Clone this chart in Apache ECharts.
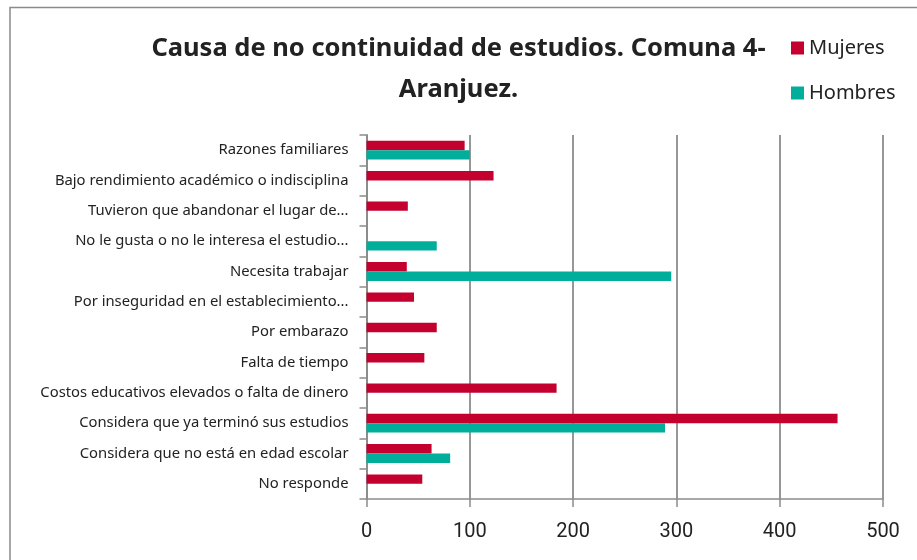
<!DOCTYPE html>
<html><head><meta charset="utf-8">
<script src="https://cdn.jsdelivr.net/npm/echarts@6/dist/echarts.min.js"></script>
<style>html,body{margin:0;padding:0;background:#fff}#c{width:917px;height:560px}</style>
</head><body><div id="c"></div>
<script>
const categories = ["Razones familiares","Bajo rendimiento académico o indisciplina","Tuvieron que abandonar el lugar de...","No le gusta o no le interesa el estudio...","Necesita trabajar","Por inseguridad en el establecimiento...","Por embarazo","Falta de tiempo","Costos educativos elevados o falta de dinero","Considera que ya terminó sus estudios","Considera que no está en edad escolar","No responde"];
const mujeres = [95,123,40,null,39,46,68,56,184,456,63,54];
const hombres = [100,null,null,68,295,null,null,null,null,289,81,null];
const xTicks = [0,100,200,300,400,500];

const chart = echarts.init(document.getElementById('c'));
const F = '"Noto Sans", Roboto, sans-serif';
const FN = 'Roboto, "Noto Sans", sans-serif';
chart.setOption({
  animation:false,
  backgroundColor:'#fff',
  graphic:[{type:'rect',shape:{x:10,y:7.5,width:1000,height:700},style:{fill:'none',stroke:'#8a8a8a',lineWidth:1.5},silent:true}],
  title:{text:'Causa de no continuidad de estudios. Comuna 4-\nAranjuez.',left:'center',top:23,
    textStyle:{fontFamily:F,fontWeight:'bold',fontSize:25.5,lineHeight:41,color:'#222'}},
  legend:{orient:'vertical',left:786,top:33,itemWidth:13,itemHeight:13,itemGap:25,icon:'rect',
    textStyle:{fontFamily:F,fontSize:20,color:'#222'},data:['Mujeres','Hombres']},
  grid:{left:366.5,right:34,top:135,bottom:61,containLabel:false},
  xAxis:{type:'value',min:0,max:500,interval:100,
    axisLine:{show:true,lineStyle:{color:'#8c8c8c',width:1.5}},
    axisTick:{show:true,length:8,lineStyle:{color:'#8c8c8c',width:1.5}},
    splitLine:{show:true,lineStyle:{color:'#8c8c8c',width:1.8}},
    axisLabel:{fontFamily:FN,fontSize:20,color:'#222',margin:23,
      formatter:v=>xTicks.includes(v)?String(v):''}},
  yAxis:{type:'category',data:categories,inverse:true,
    axisLine:{show:true,lineStyle:{color:'#8c8c8c',width:1.8}},
    axisTick:{show:true,length:7,lineStyle:{color:'#8c8c8c',width:1.5}},
    axisLabel:{fontFamily:F,fontSize:14.8,color:'#222',margin:18}},
  series:[
    {name:'Mujeres',type:'bar',data:mujeres,itemStyle:{color:'#C4002F'},barGap:'0%',barCategoryGap:'38%'},
    {name:'Hombres',type:'bar',data:hombres,itemStyle:{color:'#00AE9B'},barGap:'0%',barCategoryGap:'38%'}
  ]
});
</script></body></html>
